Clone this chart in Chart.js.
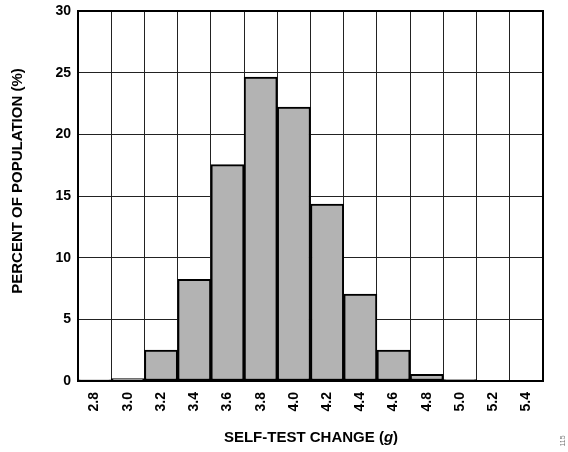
<!DOCTYPE html>
<html>
<head>
<meta charset="utf-8">
<script src="https://cdn.jsdelivr.net/npm/chart.js@4.4.0/dist/chart.umd.min.js"></script>
<style>
  html, body { margin: 0; padding: 0; background: #fff; }
  #wrap { width: 568px; height: 452px; }
</style>
</head>
<body>
<div id="wrap"><canvas id="histo" width="568" height="452"></canvas></div>
<script>
// self-test change bins (g) and share of population (%)
var bins = ['2.8','3.0','3.2','3.4','3.6','3.8','4.0','4.2','4.4','4.6','4.8','5.0','5.2','5.4'];
var percent = [0.1, 0.2, 2.5, 8.25, 17.55, 24.65, 22.2, 14.35, 7.05, 2.5, 0.55, 0.12, 0, 0];
var yTicks = [0, 5, 10, 15, 20, 25, 30];

var FONT = 'Liberation Sans, Arial, sans-serif';

// axis titles (x title has an italic unit), plot frame and the small figure number
var extraText = {
  id: 'extraText',
  afterDraw: function(chart) {
    var ctx = chart.ctx;
    var area = chart.chartArea;
    ctx.save();

    // full frame round the plot
    ctx.strokeStyle = '#000';
    ctx.lineWidth = 2;
    ctx.strokeRect(area.left, area.top, area.right - area.left, area.bottom - area.top);

    ctx.fillStyle = '#000';
    ctx.textBaseline = 'middle';
    var parts = [
      {t: 'SELF-TEST CHANGE (', f: 'bold 15px ' + FONT},
      {t: 'g', f: 'italic bold 15px ' + FONT},
      {t: ')', f: 'bold 15px ' + FONT}
    ];
    var total = 0;
    parts.forEach(function(p){ ctx.font = p.f; p.w = ctx.measureText(p.t).width; total += p.w; });
    var x = 311 - total / 2;
    parts.forEach(function(p){
      ctx.font = p.f;
      ctx.textAlign = 'left';
      ctx.fillText(p.t, x, 438);
      x += p.w;
    });

    ctx.save();
    ctx.translate(18, 181);
    ctx.rotate(-Math.PI / 2);
    ctx.font = 'bold 15px ' + FONT;
    ctx.textAlign = 'center';
    ctx.fillText('PERCENT OF POPULATION (%)', 0, 0);
    ctx.restore();

    ctx.translate(563, 441);
    ctx.rotate(-Math.PI / 2);
    ctx.font = '7px ' + FONT;
    ctx.fillStyle = '#777';
    ctx.textAlign = 'center';
    ctx.fillText('115', 0, 0);
    ctx.restore();
  }
};

var histoData = {
  labels  : bins,
  datasets: [
    {
      label              : 'Population',
      backgroundColor    : '#b3b3b3',
      borderColor        : '#000',
      borderWidth        : 2,
      borderSkipped      : false,
      categoryPercentage : 1.0,
      barPercentage      : 1.0,
      data               : percent
    }
  ]
};

var histoOptions = {
  responsive          : false,
  maintainAspectRatio : false,
  animation           : false,
  layout              : { padding: { top: 11, right: 25, left: 0, bottom: 0 } },
  plugins             : {
    legend : { display: false },
    tooltip: { enabled: false }
  },
  scales : {
    x: {
      offset: true,
      grid  : { offset: true, color: '#222', lineWidth: 1, drawTicks: false },
      border: { color: '#000', width: 2 },
      ticks : {
        autoSkip: false,
        minRotation: 90,
        maxRotation: 90,
        padding: 11,
        color: '#000',
        font: { family: FONT, size: 14, weight: 'bold' }
      },
      afterFit: function(scale) { scale.height = 71; }
    },
    y: {
      min: 0,
      max: 30,
      afterBuildTicks: function(scale) {
        scale.ticks = yTicks.map(function(v){ return {value: v}; });
      },
      grid  : { color: '#222', lineWidth: 1, drawTicks: false },
      border: { color: '#000', width: 2 },
      ticks : {
        padding: 7,
        color: '#000',
        font: { family: FONT, size: 14, weight: 'bold' }
      },
      afterFit: function(scale) {
        scale.width = 78;
        scale.paddingTop = 0;
        scale.paddingBottom = 0;
      }
    }
  }
};

var histoChart = new Chart(document.getElementById('histo').getContext('2d'), {
  type   : 'bar',
  data   : histoData,
  options: histoOptions,
  plugins: [extraText]
});
</script>
</body>
</html>
